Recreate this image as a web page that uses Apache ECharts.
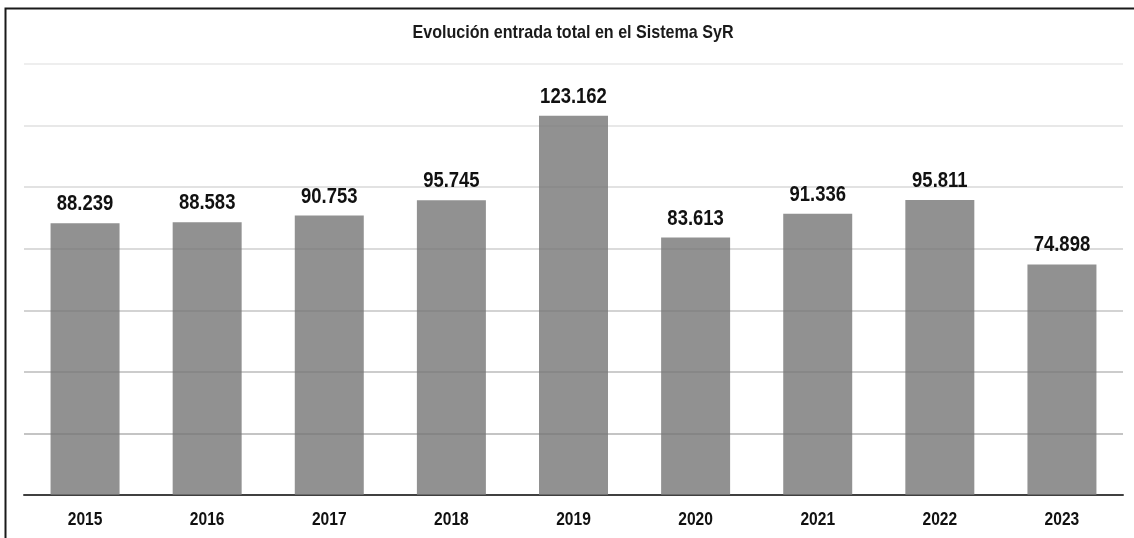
<!DOCTYPE html>
<html>
<head>
<meta charset="utf-8">
<script src="https://cdn.jsdelivr.net/npm/echarts@6/dist/echarts.min.js"></script>
<style>
  html, body { margin: 0; padding: 0; background: #fff; }
  #chart { width: 1134px; height: 538px; }
</style>
</head>
<body>
<div id="chart"></div>
<script>
// Entradas anuales en el Sistema SyR
const years = ['2015', '2016', '2017', '2018', '2019', '2020', '2021', '2022', '2023'];
const entries = [88239, 88583, 90753, 95745, 123162, 83613, 91336, 95811, 74898];
const titleText = 'Evolución entrada total en el Sistema SyR';

const FONT = '"Liberation Sans", Arial, sans-serif';
// horizontal squeeze to give the bold sans a narrow, condensed look
const NARROW = 0.84;

// Spanish thousands separator: 88.239
const fmt = v => v.toLocaleString('de-DE');

const chart = echarts.init(document.getElementById('chart'), null, { renderer: 'canvas' });

// value label above each bar and year label under the axis, both condensed
function renderLabels(params, api) {
  const idx = api.value(0);
  const val = api.value(1);
  const top = api.coord([idx, val]);
  const base = api.coord([idx, 0]);
  return {
    type: 'group',
    children: [
      {
        type: 'text',
        x: top[0], y: top[1] - 8,
        scaleX: NARROW,
        style: {
          text: fmt(val),
          font: 'bold 22px ' + FONT,
          fill: '#111',
          align: 'center',
          verticalAlign: 'bottom'
        }
      },
      {
        type: 'text',
        x: base[0], y: base[1] + 25,
        scaleX: 0.82,
        style: {
          text: years[idx],
          font: 'bold 19px ' + FONT,
          fill: '#111',
          align: 'center',
          verticalAlign: 'middle'
        }
      }
    ]
  };
}

chart.setOption({
  backgroundColor: '#ffffff',
  animation: false,
  graphic: [
    {
      type: 'rect',
      shape: { x: 5.5, y: 8.5, width: 1200, height: 600 },
      style: { fill: 'none', stroke: '#1a1a1a', lineWidth: 2 },
      silent: true,
      z: 100
    },
    {
      type: 'text',
      x: 573, y: 33,
      scaleX: 0.87,
      style: {
        text: titleText,
        font: 'bold 18.5px ' + FONT,
        fill: '#1a1a1a',
        align: 'center',
        verticalAlign: 'middle'
      },
      silent: true
    }
  ],
  grid: { left: 24, right: 11, top: 64, bottom: 43, containLabel: false },
  xAxis: {
    type: 'category',
    data: years,
    axisLine: { show: true, lineStyle: { color: '#404040', width: 2 } },
    axisTick: { show: false },
    axisLabel: { show: false }
  },
  yAxis: {
    type: 'value',
    min: 0,
    max: 140000,
    interval: 20000,
    axisLine: { show: false },
    axisTick: { show: false },
    axisLabel: { show: false },
    splitLine: {
      show: true,
      lineStyle: {
        width: 1.5,
        color: ['#404040', '#b0b0b0', '#bbbbbb', '#c5c5c5', '#cfcfcf', '#d8d8d8', '#e0e0e0', '#e8e8e8']
      }
    }
  },
  series: [
    {
      type: 'bar',
      data: entries,
      barWidth: '56.5%',
      itemStyle: { color: 'rgba(118,118,118,0.8)' },
      z: 1
    },
    {
      type: 'custom',
      data: entries.map((v, i) => [i, v]),
      renderItem: renderLabels,
      silent: true,
      z: 5
    }
  ]
});
</script>
</body>
</html>
